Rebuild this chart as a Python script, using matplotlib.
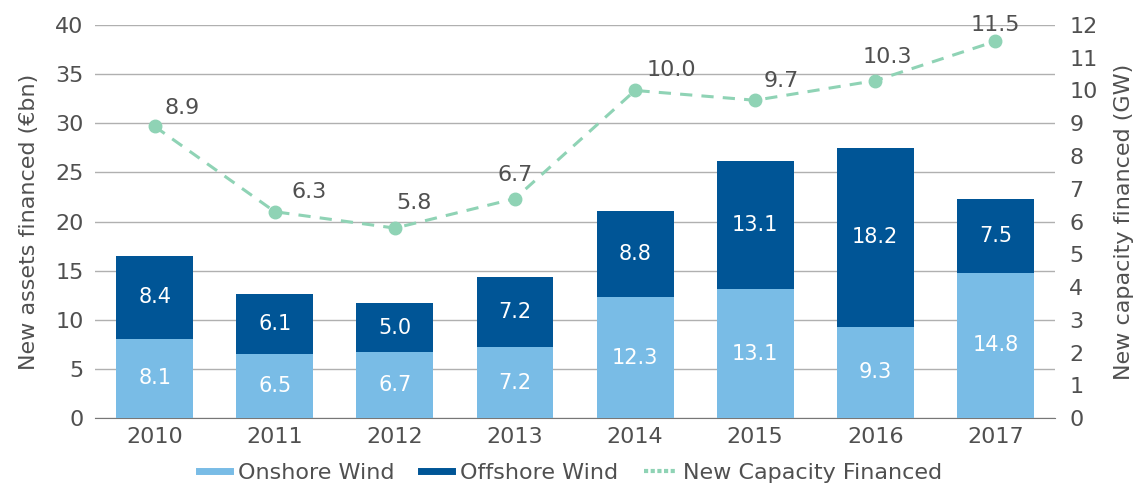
import matplotlib
matplotlib.use("Agg")
import matplotlib.pyplot as plt
import numpy as np
from matplotlib.lines import Line2D

years = ["2010", "2011", "2012", "2013", "2014", "2015", "2016", "2017"]
onshore = [8.1, 6.5, 6.7, 7.2, 12.3, 13.1, 9.3, 14.8]
offshore = [8.4, 6.1, 5.0, 7.2, 8.8, 13.1, 18.2, 7.5]
capacity = [8.9, 6.3, 5.8, 6.7, 10.0, 9.7, 10.3, 11.5]

# label offsets (points) for the line labels
lbl_off = [(20, 13), (25, 14), (14, 18), (0, 17), (26, 15), (19, 14), (9, 17), (0, 12)]

c_on = "#79bce6"
c_off = "#005596"
c_line = "#8fd3b5"
c_txt = "#505050"

plt.rcParams["font.family"] = ["DejaVu Sans"]

fig = plt.figure(figsize=(11.41, 4.88), dpi=100)
ax = fig.add_axes([0.083, 0.143, 0.842, 0.806])
x = np.arange(len(years))

ax.bar(x, onshore, width=0.64, color=c_on, zorder=3)
ax.bar(x, offshore, width=0.64, bottom=onshore, color=c_off, zorder=3)
for i in range(len(years)):
    ax.text(x[i], onshore[i] / 2, f"{onshore[i]:.1f}", color="white",
            ha="center", va="center", fontsize=15, zorder=4)
    ax.text(x[i], onshore[i] + offshore[i] / 2, f"{offshore[i]:.1f}", color="white",
            ha="center", va="center", fontsize=15, zorder=4)

ax.set_ylim(0, 40)
ax.set_yticks(range(0, 41, 5))
ax.set_xlim(-0.5, len(years) - 0.5)
ax.set_xticks(x)
ax.set_xticklabels(years)
ax.grid(axis="y", color="#b0b0b0", linewidth=1, zorder=0)
for s in ["top", "right", "left"]:
    ax.spines[s].set_visible(False)
ax.spines["bottom"].set_color("#777777")
ax.tick_params(axis="both", length=0, labelsize=16, colors=c_txt, pad=6)
ax.tick_params(axis="y", pad=8)
ax.set_ylabel("New assets financed (€bn)", fontsize=16, color=c_txt, labelpad=12)

ax2 = ax.twinx()
ax2.plot(x, capacity, color=c_line, linestyle=(0, (4, 3)), linewidth=2.2,
         marker="o", markersize=9, zorder=5)
for i in range(len(years)):
    ax2.annotate(f"{capacity[i]:.1f}", (x[i], capacity[i]), xytext=lbl_off[i],
                 textcoords="offset points", ha="center", va="center",
                 fontsize=16, color=c_txt)
ax2.set_ylim(0, 12)
ax2.set_yticks(range(0, 13))
for s in ["top", "right", "left", "bottom"]:
    ax2.spines[s].set_visible(False)
ax2.tick_params(axis="y", length=0, labelsize=16, colors=c_txt, pad=10)
ax2.set_ylabel("New capacity financed (GW)", fontsize=16, color=c_txt, labelpad=12)

handles = [
    Line2D([0], [0], color=c_on, linewidth=5),
    Line2D([0], [0], color=c_off, linewidth=5),
    Line2D([0], [0], color=c_line, linewidth=3, linestyle=(0, (1, 0.6))),
]
labels = ["Onshore Wind", "Offshore Wind", "New Capacity Financed"]
fig.legend(handles, labels, loc="lower center", bbox_to_anchor=(0.5, -0.03),
           ncol=3, frameon=False, fontsize=16, labelcolor=c_txt,
           handlelength=1.4, handletextpad=0.35, columnspacing=1.2)

fig.savefig("out.png", dpi=100)
